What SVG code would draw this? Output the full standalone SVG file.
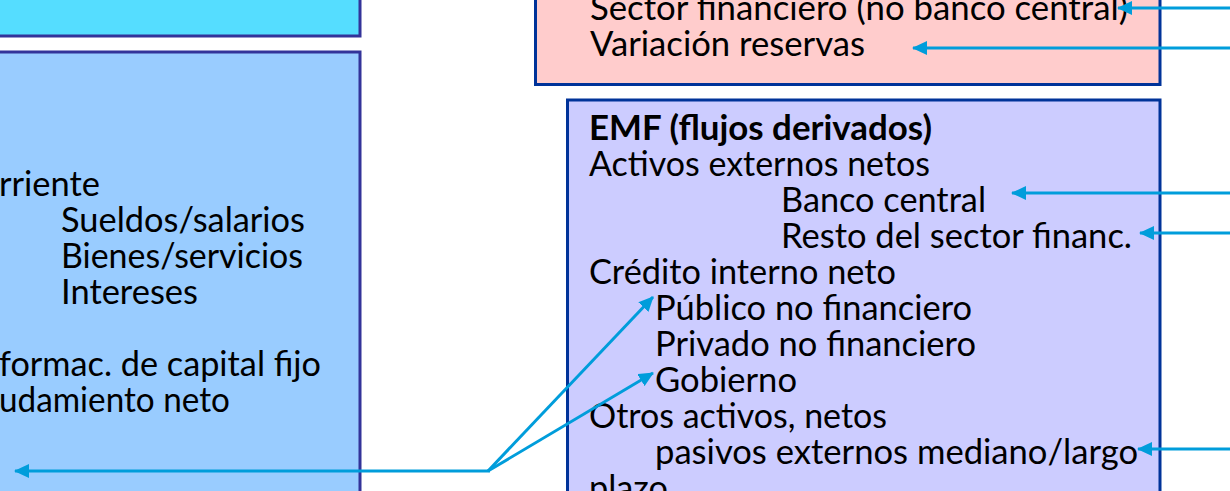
<svg xmlns="http://www.w3.org/2000/svg" width="1230" height="491" viewBox="0 0 1230 491">
<style>
.t{font-family:Lato,"Liberation Sans",sans-serif;font-size:34px;fill:#000}
.b{font-weight:bold}
.box1{fill:#55DDFF;stroke:#333399;stroke-width:3}
.box2{fill:#99CCFF;stroke:#333399;stroke-width:3}
.box3{fill:#FFCCCC;stroke:#003399;stroke-width:3}
.box4{fill:#CCCCFF;stroke:#003399;stroke-width:3}
.c{stroke:#009DDB;stroke-width:3;fill:none}
</style>
<defs>
<marker id="ah" markerUnits="userSpaceOnUse" markerWidth="16" markerHeight="14" refX="14" refY="7" orient="auto">
<path d="M0,0 L15,7 L0,14 Z" fill="#009DDB"/>
</marker>
</defs>
<g id="node-top-left">
<rect class="box1" x="-10" y="-10" width="370" height="46"/>
</g>
<g id="node-left">
<rect class="box2" x="-10" y="52" width="370" height="460"/>
<text class="t" x="-1" y="196" textLength="101" lengthAdjust="spacingAndGlyphs">rriente</text>
<text class="t" x="61" y="232" textLength="244" lengthAdjust="spacingAndGlyphs">Sueldos/salarios</text>
<text class="t" x="61" y="268" textLength="242" lengthAdjust="spacingAndGlyphs">Bienes/servicios</text>
<text class="t" x="61" y="304" textLength="137" lengthAdjust="spacingAndGlyphs">Intereses</text>
<text class="t" x="-1" y="376" textLength="322" lengthAdjust="spacingAndGlyphs">formac. de capital fijo</text>
<text class="t" x="-1" y="412" textLength="231" lengthAdjust="spacingAndGlyphs">udamiento neto</text>
</g>
<g id="node-pink">
<rect class="box3" x="535.5" y="-10" width="624.5" height="94.5"/>
<text class="t" x="590" y="20" textLength="538" lengthAdjust="spacingAndGlyphs">Sector financiero (no banco central)</text>
<text class="t" x="590" y="56" textLength="275" lengthAdjust="spacingAndGlyphs">Variación reservas</text>
</g>
<g id="node-emf">
<rect class="box4" x="567.5" y="100" width="592.5" height="410"/>
<text class="t b" x="589" y="140" textLength="343" lengthAdjust="spacingAndGlyphs">EMF (flujos derivados)</text>
<text class="t" x="589" y="176" textLength="341" lengthAdjust="spacingAndGlyphs">Activos externos netos</text>
<text class="t" x="781" y="212" textLength="205" lengthAdjust="spacingAndGlyphs">Banco central</text>
<text class="t" x="781" y="248" textLength="351" lengthAdjust="spacingAndGlyphs">Resto del sector financ.</text>
<text class="t" x="589" y="284" textLength="307" lengthAdjust="spacingAndGlyphs">Crédito interno neto</text>
<text class="t" x="655" y="320" textLength="317" lengthAdjust="spacingAndGlyphs">Público no financiero</text>
<text class="t" x="655" y="356" textLength="321" lengthAdjust="spacingAndGlyphs">Privado no financiero</text>
<text class="t" x="655" y="392" textLength="142" lengthAdjust="spacingAndGlyphs">Gobierno</text>
<text class="t" x="589" y="428" textLength="298" lengthAdjust="spacingAndGlyphs">Otros activos, netos</text>
<text class="t" x="655" y="464" textLength="483" lengthAdjust="spacingAndGlyphs">pasivos externos mediano/largo</text>
<text class="t" x="589" y="500" textLength="79" lengthAdjust="spacingAndGlyphs">plazo</text>
</g>
<g id="connectors">
<line class="c" x1="1232" y1="8" x2="1118" y2="8" marker-end="url(#ah)"/>
<line class="c" x1="1232" y1="48" x2="913" y2="48" marker-end="url(#ah)"/>
<line class="c" x1="1232" y1="193" x2="1012" y2="193" marker-end="url(#ah)"/>
<line class="c" x1="1232" y1="233" x2="1140" y2="233" marker-end="url(#ah)"/>
<line class="c" x1="1232" y1="449" x2="1138" y2="449" marker-end="url(#ah)"/>
<line class="c" x1="490" y1="471" x2="15" y2="471" marker-end="url(#ah)"/>
<line class="c" x1="488" y1="471" x2="653" y2="297" marker-end="url(#ah)"/>
<line class="c" x1="488" y1="471" x2="653" y2="373" marker-end="url(#ah)"/>
</g>
</svg>
